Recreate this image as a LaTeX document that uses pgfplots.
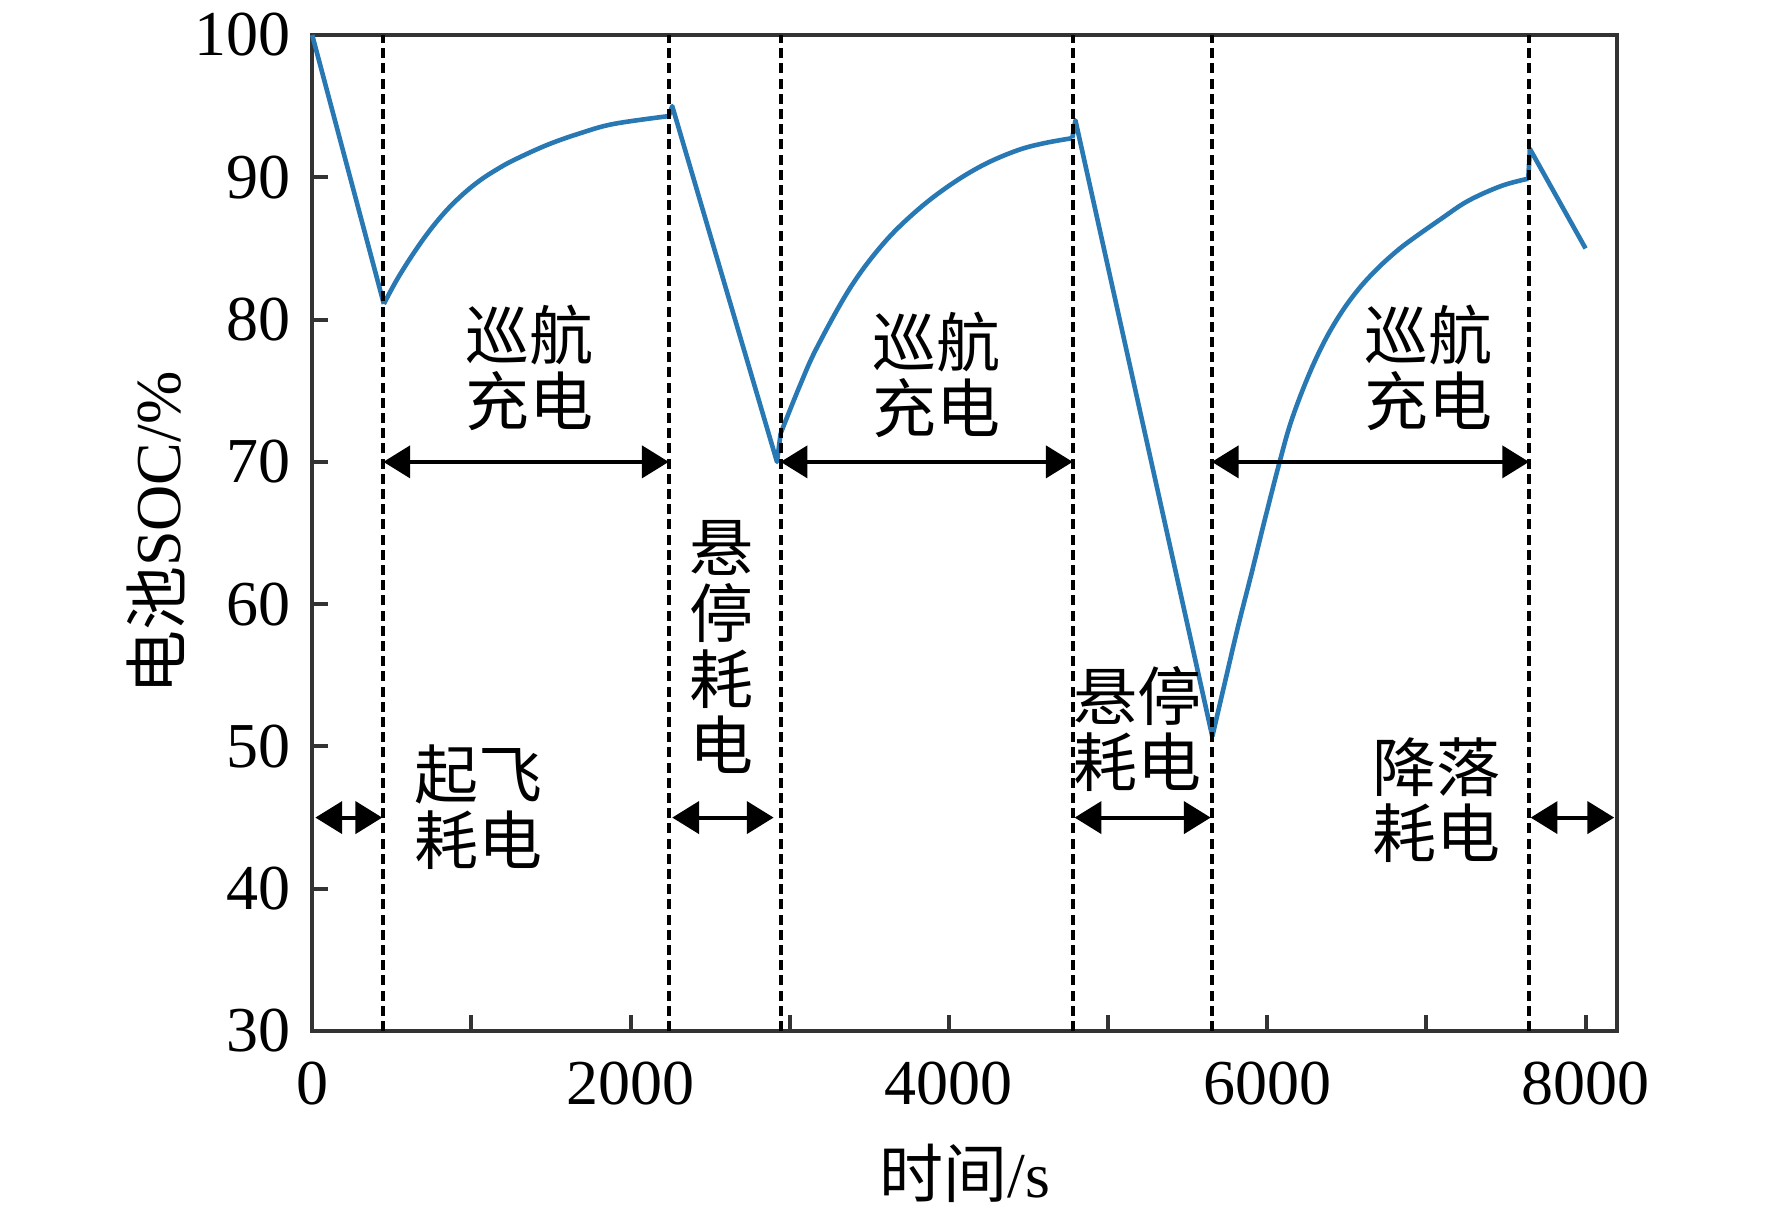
\documentclass[border=0pt]{standalone}
\usepackage{fontspec}
\setmainfont{Liberation Serif}
\newfontfamily\cjk{Noto Sans CJK SC}
\usepackage{pgfplots}
\pgfplotsset{compat=1.18}
\usetikzlibrary{arrows.meta}
\definecolor{socblue}{RGB}{40,120,180}
\begin{document}
\begin{tikzpicture}[
  dline/.style={black, line width=1pt, dash pattern=on 2.5pt off 1.3pt},
  harr/.style={black, line width=1pt, arrows={Triangle[length=6.7pt,width=8pt]-Triangle[length=6.7pt,width=8pt]}},
  lab/.style={font=\cjk\fontsize{16}{16.5}\selectfont, align=center, inner sep=0pt},
  soc/.style={socblue, line width=1.15pt, line join=round}
]
\begin{axis}[
  scale only axis, width=326.3pt, height=249pt,
  xmin=0, xmax=8200, ymin=30, ymax=100,
  axis line style={black!80, line width=1pt},
  tick style={black!80, line width=1pt},
  tick align=inside, tick pos=left,
  major tick length=4pt,
  xtick={0,1000,...,8000},
  xticklabels={0,,2000,,4000,,6000,,8000},
  ytick={30,40,...,100},
  minor tick num=0,
  /pgf/number format/assume math mode=true,
  tick label style={font=\fontsize{16}{16}\selectfont},
  xticklabel style={yshift=-4.2pt},
  yticklabel style={xshift=-1.8pt},
  xlabel={{\cjk 时间}/s},
  ylabel={{\cjk 电池}SOC/\%},
  label style={font=\fontsize{16}{16}\selectfont},
  xlabel style={at={([yshift=-35.5pt]axis description cs:0.5,0)}, anchor=center},
  ylabel style={at={([xshift=-39pt]axis description cs:0,0.5)}, anchor=center},
  clip=false,
]
% discharge / charge segments
\addplot[soc] coordinates {(0,100) (450,81.1)};
\addplot[soc, smooth, tension=0.6] coordinates {
 (450,81.1) (532,82.8) (636,84.65) (741,86.3) (846,87.7) (951,88.85)
 (1056,89.8) (1160,90.55) (1265,91.2) (1475,92.27) (1685,93.1) (1894,93.75) (2240,94.3)};
\addplot[soc] coordinates {(2240,94.3) (2262,95.0) (2920,70.0) (2943,72.0)};
\addplot[soc, smooth, tension=0.6] coordinates {
 (2943,72.0) (3069,75.5) (3174,78.1) (3384,82.3) (3593,85.4)
 (3803,87.7) (4013,89.5) (4222,90.9) (4432,91.9) (4600,92.4) (4775,92.75)};
\addplot[soc] coordinates {(4775,92.75) (4795,94.0) (5655,50.7)};
\addplot[soc, smooth, tension=0.6] coordinates {
 (5655,50.7) (5732,54.4) (5816,58.4) (5900,62.1) (5984,65.9) (6078,70.0)
 (6152,72.9) (6257,76.0) (6361,78.5) (6466,80.5) (6571,82.1) (6676,83.4)
 (6781,84.5) (6886,85.45) (7095,87.1) (7263,88.35) (7473,89.4) (7640,89.9)};
\addplot[soc] coordinates {(7640,89.9) (7650,92.0) (8000,85.0)};
% phase boundaries
\draw[dline] (axis cs:447,30) -- (axis cs:447,100);
\draw[dline] (axis cs:2240,30) -- (axis cs:2240,100);
\draw[dline] (axis cs:2943,30) -- (axis cs:2943,100);
\draw[dline] (axis cs:4778,30) -- (axis cs:4778,100);
\draw[dline] (axis cs:5652,30) -- (axis cs:5652,100);
\draw[dline] (axis cs:7645,30) -- (axis cs:7645,100);
% arrows
\draw[harr] (axis cs:447,70) -- (axis cs:2240,70);
\draw[harr] (axis cs:2943,70) -- (axis cs:4778,70);
\draw[harr] (axis cs:5652,70) -- (axis cs:7645,70);
\draw[harr] (axis cs:20,45) -- (axis cs:440,45);
\draw[harr] (axis cs:2262,45) -- (axis cs:2899,45);
\draw[harr] (axis cs:4790,45) -- (axis cs:5645,45);
\draw[harr] (axis cs:7655,45) -- (axis cs:8180,45);
% labels
\node[lab] at (axis cs:1364,76.6) {巡航\\充电};
\node[lab] at (axis cs:3923,76.1) {巡航\\充电};
\node[lab] at (axis cs:7012,76.6) {巡航\\充电};
\node[lab] at (axis cs:1047,45.75) {起飞\\耗电};
\node[lab] at (axis cs:2572,57.0) {悬\\停\\耗\\电};
\node[lab] at (axis cs:5183,51.2) {悬停\\耗电};
\node[lab] at (axis cs:7063,46.2) {降落\\耗电};
\end{axis}
\path ([xshift=-78.05pt,yshift=-45.75pt]current axis.south west) rectangle ++(443pt,303.5pt);
\end{tikzpicture}
\end{document}
